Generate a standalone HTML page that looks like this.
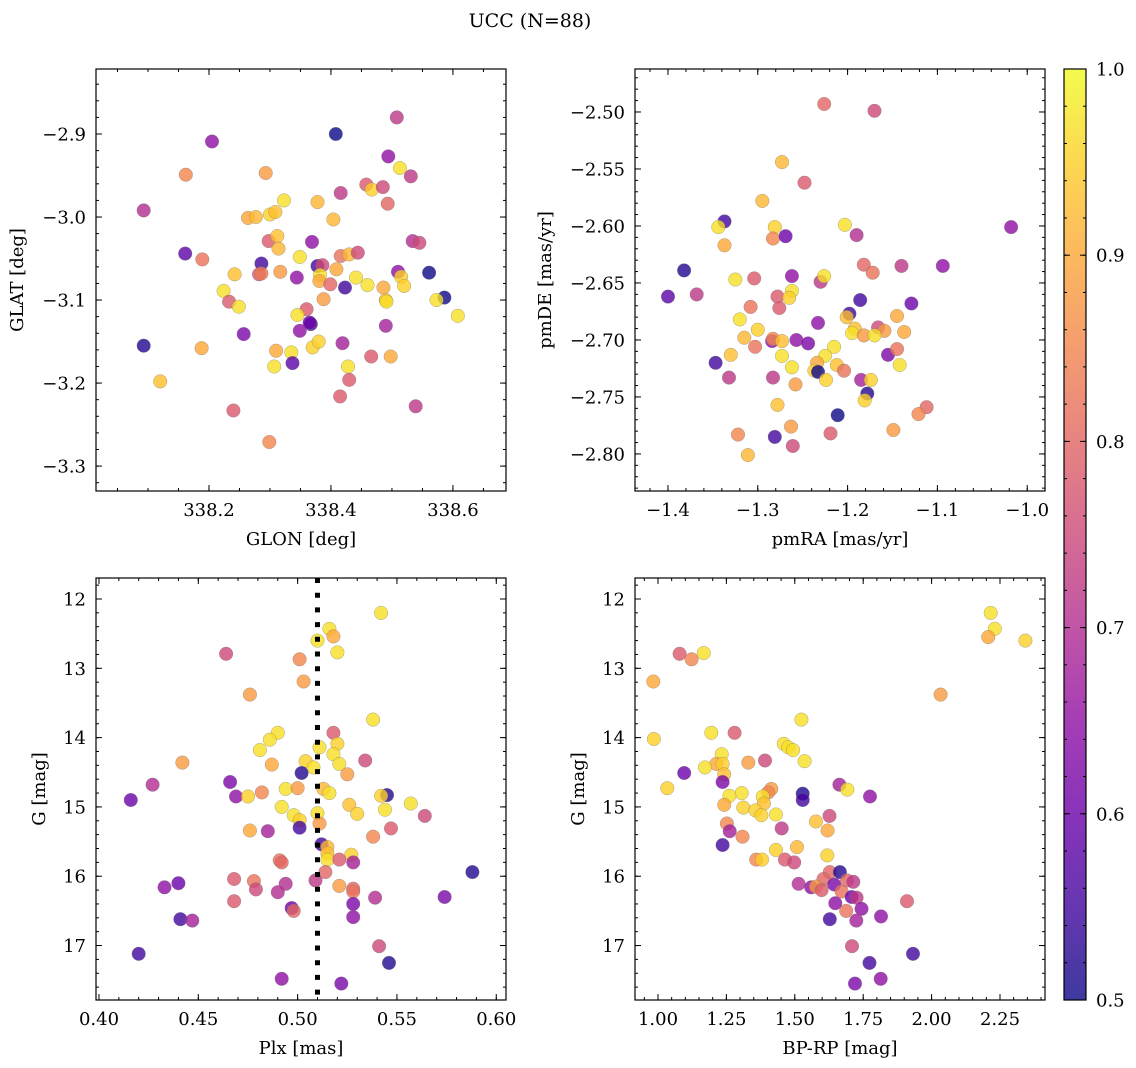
<!DOCTYPE html>
<html><head><meta charset="utf-8"><style>
html,body{margin:0;padding:0;background:#fff;}
svg{display:block;font-family:"DejaVu Serif","Liberation Serif",serif;}
</style></head>
<body>
<svg id="fig" width="1136" height="1068" viewBox="0 0 1136 1068" xmlns="http://www.w3.org/2000/svg">
<text x="530" y="27" font-size="19" text-anchor="middle">UCC (N=88)</text>
<defs>
<linearGradient id="plasma" x1="0" y1="1" x2="0" y2="0">
<stop offset="0" stop-color="#0d0887"/><stop offset="0.1" stop-color="#41049d"/><stop offset="0.2" stop-color="#6a00a8"/><stop offset="0.3" stop-color="#8f0da4"/><stop offset="0.4" stop-color="#b12a90"/><stop offset="0.5" stop-color="#cc4778"/><stop offset="0.6" stop-color="#e16462"/><stop offset="0.7" stop-color="#f2844b"/><stop offset="0.8" stop-color="#fca636"/><stop offset="0.9" stop-color="#fcce25"/><stop offset="1" stop-color="#f0f921"/>
</linearGradient>
</defs>
</svg>
<script>
// Panel 1: GLON vs GLAT
const glonX=[338.508,338.408,338.205,338.494,338.513,338.531,338.162,338.293,338.458,338.467,338.485,338.416,338.323,338.378,338.493,338.093,338.264,338.277,338.300,338.309,338.404,338.369,338.298,338.312,338.314,338.534,338.545,338.161,338.189,338.349,338.416,338.430,338.444,338.286,338.282,338.286,338.317,338.242,338.378,338.386,338.344,338.382,338.381,338.399,338.409,338.423,338.441,338.460,338.486,338.510,338.515,338.520,338.561,338.586,338.573,338.490,338.491,338.388,338.224,338.233,338.249,338.608,338.360,338.345,338.367,338.365,338.349,338.257,338.490,338.093,338.188,338.310,338.335,338.370,338.380,338.419,338.466,338.498,338.337,338.307,338.428,338.430,338.120,338.415,338.240,338.539,338.299];
const glatY=[-2.880,-2.900,-2.909,-2.927,-2.941,-2.951,-2.949,-2.947,-2.961,-2.967,-2.964,-2.971,-2.980,-2.982,-2.984,-2.992,-3.001,-3.000,-2.997,-2.994,-3.003,-3.030,-3.029,-3.023,-3.038,-3.029,-3.031,-3.044,-3.051,-3.048,-3.047,-3.045,-3.043,-3.056,-3.069,-3.068,-3.066,-3.069,-3.059,-3.058,-3.073,-3.070,-3.077,-3.081,-3.063,-3.085,-3.073,-3.082,-3.085,-3.066,-3.072,-3.083,-3.067,-3.097,-3.100,-3.100,-3.102,-3.099,-3.089,-3.102,-3.108,-3.119,-3.111,-3.118,-3.129,-3.127,-3.137,-3.141,-3.131,-3.155,-3.158,-3.161,-3.163,-3.157,-3.150,-3.152,-3.168,-3.168,-3.176,-3.180,-3.180,-3.196,-3.198,-3.216,-3.233,-3.228,-3.271];
const p1Prob=[0.72,0.5,0.65,0.65,0.97,0.72,0.85,0.88,0.78,0.95,0.75,0.72,0.97,0.92,0.8,0.7,0.9,0.92,0.95,0.93,0.92,0.65,0.78,0.93,0.92,0.7,0.75,0.58,0.82,0.97,0.82,0.92,0.75,0.55,0.78,0.83,0.88,0.93,0.55,0.75,0.65,0.97,0.9,0.8,0.9,0.55,0.97,0.97,0.9,0.65,0.95,0.95,0.5,0.5,0.97,0.93,0.97,0.88,0.97,0.78,0.97,0.97,0.78,0.97,0.55,0.6,0.65,0.62,0.68,0.52,0.9,0.9,0.97,0.95,0.95,0.68,0.78,0.9,0.58,0.97,0.97,0.78,0.93,0.78,0.78,0.72,0.85];
// Panel 2: pmRA vs pmDE
const pmraX=[-1.226,-1.170,-1.273,-1.248,-1.295,-1.337,-1.344,-1.281,-1.283,-1.269,-1.203,-1.190,-1.337,-1.018,-1.382,-1.400,-1.368,-1.325,-1.304,-1.262,-1.230,-1.226,-1.182,-1.172,-1.140,-1.094,-1.278,-1.262,-1.265,-1.276,-1.308,-1.186,-1.129,-1.320,-1.300,-1.315,-1.303,-1.284,-1.283,-1.273,-1.257,-1.244,-1.233,-1.198,-1.201,-1.192,-1.195,-1.182,-1.166,-1.159,-1.170,-1.145,-1.137,-1.330,-1.347,-1.273,-1.215,-1.225,-1.234,-1.212,-1.204,-1.155,-1.145,-1.142,-1.332,-1.283,-1.262,-1.237,-1.233,-1.224,-1.258,-1.185,-1.174,-1.178,-1.181,-1.278,-1.211,-1.112,-1.121,-1.263,-1.322,-1.281,-1.219,-1.149,-1.261,-1.311];
const pmdeY=[-2.493,-2.499,-2.544,-2.562,-2.578,-2.596,-2.601,-2.601,-2.611,-2.609,-2.599,-2.608,-2.617,-2.601,-2.639,-2.662,-2.660,-2.647,-2.646,-2.644,-2.649,-2.644,-2.634,-2.641,-2.635,-2.635,-2.662,-2.657,-2.663,-2.672,-2.671,-2.665,-2.668,-2.682,-2.691,-2.698,-2.706,-2.701,-2.699,-2.701,-2.700,-2.703,-2.685,-2.677,-2.680,-2.690,-2.694,-2.696,-2.689,-2.692,-2.696,-2.679,-2.693,-2.713,-2.720,-2.714,-2.706,-2.714,-2.720,-2.722,-2.727,-2.713,-2.708,-2.722,-2.733,-2.733,-2.724,-2.727,-2.728,-2.735,-2.739,-2.735,-2.735,-2.747,-2.753,-2.757,-2.766,-2.759,-2.765,-2.776,-2.783,-2.785,-2.782,-2.779,-2.793,-2.801];
const p2Prob=[0.8,0.75,0.92,0.78,0.92,0.55,0.97,0.95,0.85,0.6,0.97,0.7,0.9,0.65,0.52,0.58,0.72,0.97,0.78,0.65,0.72,0.97,0.8,0.82,0.72,0.65,0.78,0.97,0.95,0.78,0.82,0.55,0.6,0.97,0.95,0.92,0.82,0.65,0.85,0.93,0.65,0.62,0.65,0.55,0.93,0.93,0.97,0.88,0.75,0.88,0.97,0.9,0.9,0.93,0.55,0.97,0.97,0.97,0.9,0.93,0.82,0.62,0.82,0.97,0.72,0.72,0.97,0.95,0.5,0.95,0.88,0.68,0.95,0.52,0.95,0.93,0.5,0.8,0.85,0.88,0.85,0.55,0.78,0.88,0.75,0.92];
// Panel 3: Plx vs G
const plxX=[0.542,0.516,0.518,0.510,0.520,0.464,0.501,0.503,0.476,0.538,0.518,0.490,0.486,0.520,0.511,0.481,0.518,0.521,0.487,0.504,0.508,0.534,0.442,0.525,0.502,0.427,0.466,0.416,0.469,0.475,0.482,0.494,0.500,0.513,0.516,0.545,0.542,0.557,0.492,0.498,0.501,0.510,0.526,0.530,0.544,0.564,0.511,0.501,0.476,0.485,0.547,0.538,0.512,0.515,0.515,0.515,0.527,0.521,0.528,0.491,0.492,0.588,0.514,0.468,0.478,0.479,0.494,0.490,0.509,0.521,0.528,0.528,0.440,0.433,0.468,0.539,0.574,0.528,0.497,0.498,0.528,0.441,0.447,0.541,0.420,0.546,0.492,0.522];
const plxG=[12.20,12.43,12.54,12.60,12.77,12.79,12.87,13.19,13.38,13.74,13.93,13.93,14.03,14.09,14.14,14.18,14.24,14.38,14.39,14.34,14.43,14.33,14.36,14.53,14.51,14.68,14.64,14.90,14.85,14.85,14.79,14.74,14.73,14.74,14.80,14.83,14.84,14.95,15.00,15.12,15.19,15.09,14.97,15.10,15.04,15.13,15.24,15.30,15.34,15.35,15.31,15.43,15.54,15.58,15.67,15.76,15.69,15.76,15.80,15.77,15.80,15.94,15.94,16.04,16.07,16.19,16.11,16.23,16.06,16.14,16.18,16.22,16.10,16.16,16.36,16.31,16.30,16.40,16.46,16.50,16.59,16.62,16.64,17.01,17.12,17.25,17.48,17.55];
const p3Prob=[0.97,0.97,0.9,0.97,0.97,0.75,0.85,0.88,0.88,0.97,0.78,0.97,0.97,0.95,0.97,0.97,0.97,0.97,0.9,0.95,0.97,0.75,0.88,0.88,0.52,0.7,0.62,0.6,0.65,0.95,0.85,0.97,0.88,0.92,0.97,0.52,0.95,0.97,0.97,0.97,0.95,0.97,0.93,0.95,0.97,0.75,0.88,0.55,0.9,0.68,0.78,0.85,0.55,0.92,0.93,0.97,0.95,0.78,0.68,0.82,0.8,0.52,0.8,0.78,0.82,0.75,0.7,0.7,0.72,0.88,0.8,0.82,0.6,0.65,0.78,0.7,0.62,0.62,0.6,0.8,0.65,0.55,0.68,0.75,0.55,0.52,0.65,0.62];
const plxRef=[0.51];
// Panel 4: BP-RP vs G
const bprpX=[2.216,2.231,2.207,2.343,1.079,1.123,1.167,0.983,2.033,1.524,0.985,1.195,1.280,1.460,1.476,1.494,1.536,1.233,1.213,1.236,1.172,1.330,1.391,1.242,1.236,1.096,1.034,1.414,1.403,1.306,1.261,1.383,1.387,1.242,1.312,1.356,1.378,1.431,1.663,1.692,1.775,1.529,1.529,1.627,1.577,1.620,1.452,1.252,1.262,1.309,1.236,1.508,1.619,1.431,1.359,1.380,1.464,1.498,1.628,1.665,1.605,1.514,1.560,1.578,1.598,1.644,1.671,1.691,1.714,1.708,1.726,1.648,1.688,1.744,1.910,1.628,1.725,1.815,1.709,1.932,1.773,1.814,1.720];
const cmdG=[12.20,12.43,12.55,12.60,12.79,12.87,12.78,13.19,13.38,13.74,14.02,13.93,13.93,14.09,14.14,14.18,14.34,14.24,14.38,14.38,14.43,14.36,14.33,14.53,14.64,14.51,14.73,14.74,14.79,14.80,14.84,14.85,14.95,14.97,15.01,15.05,15.12,15.11,14.68,14.75,14.85,14.81,14.90,15.13,15.21,15.34,15.31,15.24,15.35,15.43,15.55,15.58,15.70,15.62,15.76,15.76,15.76,15.80,15.94,15.94,16.04,16.11,16.16,16.15,16.20,16.12,16.22,16.06,16.08,16.30,16.31,16.39,16.50,16.47,16.36,16.62,16.64,16.58,17.01,17.12,17.25,17.48,17.55];
const p4Prob=[0.97,0.97,0.9,0.95,0.78,0.85,0.97,0.9,0.88,0.97,0.95,0.97,0.78,0.97,0.97,0.97,0.97,0.97,0.9,0.95,0.97,0.88,0.75,0.93,0.62,0.6,0.95,0.88,0.85,0.97,0.97,0.97,0.93,0.9,0.95,0.95,0.95,0.97,0.68,0.97,0.65,0.52,0.55,0.75,0.93,0.9,0.72,0.85,0.68,0.85,0.55,0.92,0.95,0.95,0.85,0.95,0.78,0.75,0.8,0.52,0.8,0.7,0.65,0.88,0.78,0.62,0.82,0.8,0.72,0.6,0.72,0.65,0.82,0.65,0.78,0.55,0.68,0.65,0.75,0.55,0.55,0.65,0.62];
// Colorbar
const cbTicks=[0.5,0.6,0.7,0.8,0.9,1.0];
const cbLabels=["0.5","0.6","0.7","0.8","0.9","1.0"];
const p1XTicks=[338.2,338.4,338.6], p1XLabels=["338.2","338.4","338.6"];
const p1YTicks=[-2.9,-3.0,-3.1,-3.2,-3.3], p1YLabels=["\u22122.9","\u22123.0","\u22123.1","\u22123.2","\u22123.3"];
const p2XTicks=[-1.4,-1.3,-1.2,-1.1,-1.0], p2XLabels=["\u22121.4","\u22121.3","\u22121.2","\u22121.1","\u22121.0"];
const p2YTicks=[-2.5,-2.55,-2.6,-2.65,-2.7,-2.75,-2.8], p2YLabels=["\u22122.50","\u22122.55","\u22122.60","\u22122.65","\u22122.70","\u22122.75","\u22122.80"];
const p3XTicks=[0.40,0.45,0.50,0.55,0.60], p3XLabels=["0.40","0.45","0.50","0.55","0.60"];
const gTicks=[12,13,14,15,16,17], gLabels=["12","13","14","15","16","17"];
const p4XTicks=[1.0,1.25,1.5,1.75,2.0,2.25], p4XLabels=["1.00","1.25","1.50","1.75","2.00","2.25"];

const NS="http://www.w3.org/2000/svg";
const svg=document.getElementById('fig');
function mk(tag,attrs,parent){const e=document.createElementNS(NS,tag);for(const k in attrs)e.setAttribute(k,attrs[k]);(parent||svg).appendChild(e);return e;}
const stops=[[0,13,8,135],[0.1,65,4,157],[0.2,106,0,168],[0.3,143,13,164],[0.4,177,42,144],[0.5,204,71,120],[0.6,225,100,98],[0.7,242,132,75],[0.8,252,166,54],[0.9,252,206,37],[1,240,249,33]];
function plasma(p){let t=(p-0.5)/0.5;t=Math.max(0,Math.min(1,t));for(let i=1;i<stops.length;i++){if(t<=stops[i][0]){const a=stops[i-1],b=stops[i];const f=(t-a[0])/(b[0]-a[0]);return `rgb(${Math.round(a[1]+f*(b[1]-a[1]))},${Math.round(a[2]+f*(b[2]-a[2]))},${Math.round(a[3]+f*(b[3]-a[3]))})`;}}return 'rgb(240,249,33)';}
function linScale(d0,d1,r0,r1){return v=>r0+(v-d0)/(d1-d0)*(r1-r0);}

function panel(cfg){
  const g=mk('g',{});
  
  
  const {L,T,R,B}=cfg;
  const sx=linScale(cfg.xd[0],cfg.xd[1],L,R), sy=linScale(cfg.yd[0],cfg.yd[1],T,B);
  const pts=mk('g',{},g);
  
  
  for(let i=0;i<cfg.xs.length;i++){
    const c=mk('circle',{cx:sx(cfg.xs[i]).toFixed(1),cy:sy(cfg.ys[i]).toFixed(1),r:6.8,fill:plasma(cfg.ps[i]),'fill-opacity':0.8,stroke:'#777','stroke-opacity':0.6,'stroke-width':0.5},pts);
    
    
  }
  if(cfg.vline){
    const ln=mk('line',{x1:sx(cfg.vline[0]),x2:sx(cfg.vline[0]),y1:T,y2:B,stroke:'#000','stroke-width':5,'stroke-dasharray':'5,9.7'},g);
    
    
  }
  const tk=mk('g',{stroke:'#000','stroke-width':1},g);
  
  
  for(let v=cfg.xmin0;v<=cfg.xd[1]+1e-9;v+=cfg.xminor){if(v<cfg.xd[0])continue;const x=sx(v);mk('line',{x1:x,x2:x,y1:B,y2:B-3},tk);mk('line',{x1:x,x2:x,y1:T,y2:T+3},tk);}
  const ylo=Math.min(...cfg.yd),yhi=Math.max(...cfg.yd);
  for(let v=cfg.ymin0;v<=yhi+1e-9;v+=cfg.yminor){if(v<ylo)continue;const y=sy(v);mk('line',{x1:L,x2:L+3,y1:y,y2:y},tk);mk('line',{x1:R,x2:R-3,y1:y,y2:y},tk);}
  cfg.xt.forEach((v,i)=>{const x=sx(v);mk('line',{x1:x,x2:x,y1:B,y2:B-6},tk);mk('line',{x1:x,x2:x,y1:T,y2:T+6},tk);
    const t=mk('text',{x:x,y:B+25,'font-size':18,'text-anchor':'middle',stroke:'none'},g);t.textContent=cfg.xl[i];
    
    });
  cfg.yt.forEach((v,i)=>{const y=sy(v);mk('line',{x1:L,x2:L+6,y1:y,y2:y},tk);mk('line',{x1:R,x2:R-6,y1:y,y2:y},tk);
    const t=mk('text',{x:L-10,y:y+6.5,'font-size':18,'text-anchor':'end'},g);t.textContent=cfg.yl[i];
    
    });
  const fr=mk('rect',{x:L,y:T,width:R-L,height:B-T,fill:'none',stroke:'#000','stroke-width':1.2},g);
  
  
  const xt=mk('text',{x:(L+R)/2,y:B+54,'font-size':18,'text-anchor':'middle'},g);xt.textContent=cfg.xlabel;
  
  
  const yx=cfg.ylabX, yy=(T+B)/2;
  const yt=mk('text',{x:yx,y:yy,'font-size':18,'text-anchor':'middle',transform:`rotate(-90 ${yx} ${yy})`},g);yt.textContent=cfg.ylabel;
  
  
}

panel({name:'glon-glat-panel',L:96,T:69,R:506,B:491,xd:[338.0148,338.687],yd:[-2.8217,-3.330],xs:glonX,ys:glatY,ps:p1Prob,
  xt:p1XTicks,xl:p1XLabels,yt:p1YTicks,yl:p1YLabels,xminor:0.05,xmin0:338.0,yminor:0.02,ymin0:-3.34,xlabel:'GLON [deg]',ylabel:'GLAT [deg]',ylabX:23});
panel({name:'proper-motion-panel',L:635,T:69,R:1045,B:491,xd:[-1.4367,-0.9802],yd:[-2.4623,-2.8325],xs:pmraX,ys:pmdeY,ps:p2Prob,
  xt:p2XTicks,xl:p2XLabels,yt:p2YTicks,yl:p2YLabels,xminor:0.02,xmin0:-1.44,yminor:0.01,ymin0:-2.84,xlabel:'pmRA [mas/yr]',ylabel:'pmDE [mas/yr]',ylabX:551});
panel({name:'parallax-panel',L:96,T:578,R:506,B:1000,xd:[0.3985,0.6049],yd:[11.697,17.786],xs:plxX,ys:plxG,ps:p3Prob,vline:plxRef,
  xt:p3XTicks,xl:p3XLabels,yt:gTicks,yl:gLabels,xminor:0.01,xmin0:0.39,yminor:0.2,ymin0:11.6,xlabel:'Plx [mas]',ylabel:'G [mag]',ylabX:45});
panel({name:'cmd-panel',L:635,T:578,R:1045,B:1000,xd:[0.916,2.4145],yd:[11.697,17.786],xs:bprpX,ys:cmdG,ps:p4Prob,
  xt:p4XTicks,xl:p4XLabels,yt:gTicks,yl:gLabels,xminor:0.05,xmin0:0.9,yminor:0.2,ymin0:11.6,xlabel:'BP-RP [mag]',ylabel:'G [mag]',ylabX:584});

const cb=mk('g',{});


const cbY=linScale(0.5,1.0,1000,69);
mk('rect',{x:1064,y:69,width:22,height:931,fill:'url(#plasma)','fill-opacity':0.8},cb);
for(let v=0.5;v<=1.0001;v+=0.02){const y=cbY(v);mk('line',{x1:1086,x2:1083,y1:y,y2:y,stroke:'#000'},cb);mk('line',{x1:1064,x2:1067,y1:y,y2:y,stroke:'#000'},cb);}
cbTicks.forEach((v,i)=>{const y=cbY(v);mk('line',{x1:1086,x2:1080,y1:y,y2:y,stroke:'#000'},cb);mk('line',{x1:1064,x2:1070,y1:y,y2:y,stroke:'#000'},cb);
  const t=mk('text',{x:1096,y:y+6.5,'font-size':18},cb);t.textContent=cbLabels[i];
  
  });
mk('rect',{x:1064,y:69,width:22,height:931,fill:'none',stroke:'#000','stroke-width':1.2},cb);
</script>
</body></html>
